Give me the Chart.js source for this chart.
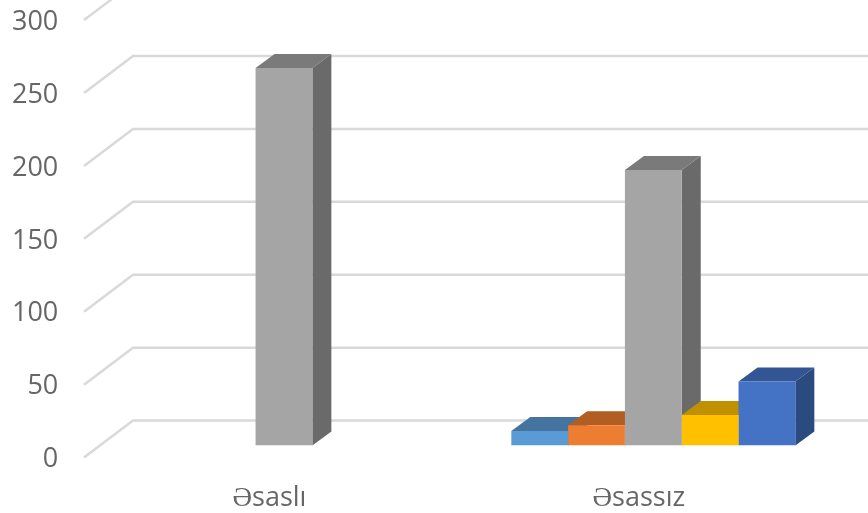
<!DOCTYPE html>
<html>
<head>
<meta charset="utf-8">
<style>
html,body{margin:0;padding:0;background:#fff;overflow:hidden}
canvas{display:block;filter:blur(0.6px)}
</style>
<script src="https://cdn.jsdelivr.net/npm/chart.js@4"></script>
</head>
<body>
<canvas id="c" width="868" height="513"></canvas>
<script>
const categories = ["Əsaslı", "Əsassız"];
const series1 = [null, 10];
const series2 = [null, 14];
const series3 = [259, 189];
const series4 = [null, 21];
const series5 = [null, 44];
const allSeries = [series1, series2, series3, series4, series5];
const frontColors = ["#5B9BD5", "#ED7D31", "#A5A5A5", "#FFC000", "#4472C4"];
const topColors = ["#44749F", "#B25E23", "#7A7A7A", "#BF9000", "#335593"];
const sideColors = ["#3A6690", "#9E521E", "#6A6A6A", "#A87F00", "#2A4A80"];
const DX = 19, DY = -14;

const wall3d = {
  id: "wall3d",
  beforeDatasetsDraw(chart) {
    const yScale = chart.scales.y, ctx = chart.ctx;
    ctx.save();
    ctx.strokeStyle = "#D9D9D9";
    ctx.lineWidth = 2.5;
    yScale.ticks.forEach(t => {
      const p = yScale.getPixelForValue(t.value);
      ctx.beginPath();
      ctx.moveTo(84, p + 12);
      ctx.lineTo(133, p - 25);
      ctx.lineTo(868, p - 25);
      ctx.stroke();
    });
    allSeries.forEach((values, i) => {
      chart.getDatasetMeta(i).data.forEach((bar, k) => {
        if (values[k] === null) return;
        const { x, y, base, width } = bar.getProps(["x", "y", "base", "width"], true);
        const l = x - width / 2, r = x + width / 2;
        ctx.fillStyle = sideColors[i];
        ctx.beginPath();
        ctx.moveTo(r, y); ctx.lineTo(r + DX, y + DY);
        ctx.lineTo(r + DX, base + DY); ctx.lineTo(r, base);
        ctx.closePath(); ctx.fill();
        ctx.fillStyle = topColors[i];
        ctx.beginPath();
        ctx.moveTo(l, y); ctx.lineTo(l + DX, y + DY);
        ctx.lineTo(r + DX, y + DY); ctx.lineTo(r, y);
        ctx.closePath(); ctx.fill();
      });
    });
    ctx.restore();
  }
};

new Chart(document.getElementById("c"), {
  type: "bar",
  data: {
    labels: categories,
    datasets: allSeries.map((d, i) => ({
      data: d,
      backgroundColor: frontColors[i],
      borderWidth: 0,
      barPercentage: 1,
      categoryPercentage: 0.769
    }))
  },
  plugins: [wall3d],
  options: {
    responsive: false,
    animation: false,
    layout: { padding: { top: 8.1, right: 30, left: 0, bottom: 0 }, autoPadding: false },
    plugins: { legend: { display: false }, tooltip: { enabled: false } },
    scales: {
      x: {
        afterFit(s) { s.height = 67.4; s.paddingLeft = 0; s.paddingRight = 0; },
        grid: { display: false, drawTicks: false },
        border: { display: false },
        ticks: {
          color: "#666666", padding: 36.5, labelOffset: -14.5, maxRotation: 0,
          font: { family: "'Open Sans'", size: 27 }
        }
      },
      y: {
        min: 0, max: 300,
        afterFit(s) { s.width = 99.3; s.paddingTop = 0; s.paddingBottom = 0; },
        grid: { display: false, drawTicks: false },
        border: { display: false },
        ticks: {
          stepSize: 50, color: "#666666", padding: 41, labelOffset: 14,
          font: { family: "'Open Sans'", size: 27 }
        }
      }
    }
  }
});
</script>
</body>
</html>
